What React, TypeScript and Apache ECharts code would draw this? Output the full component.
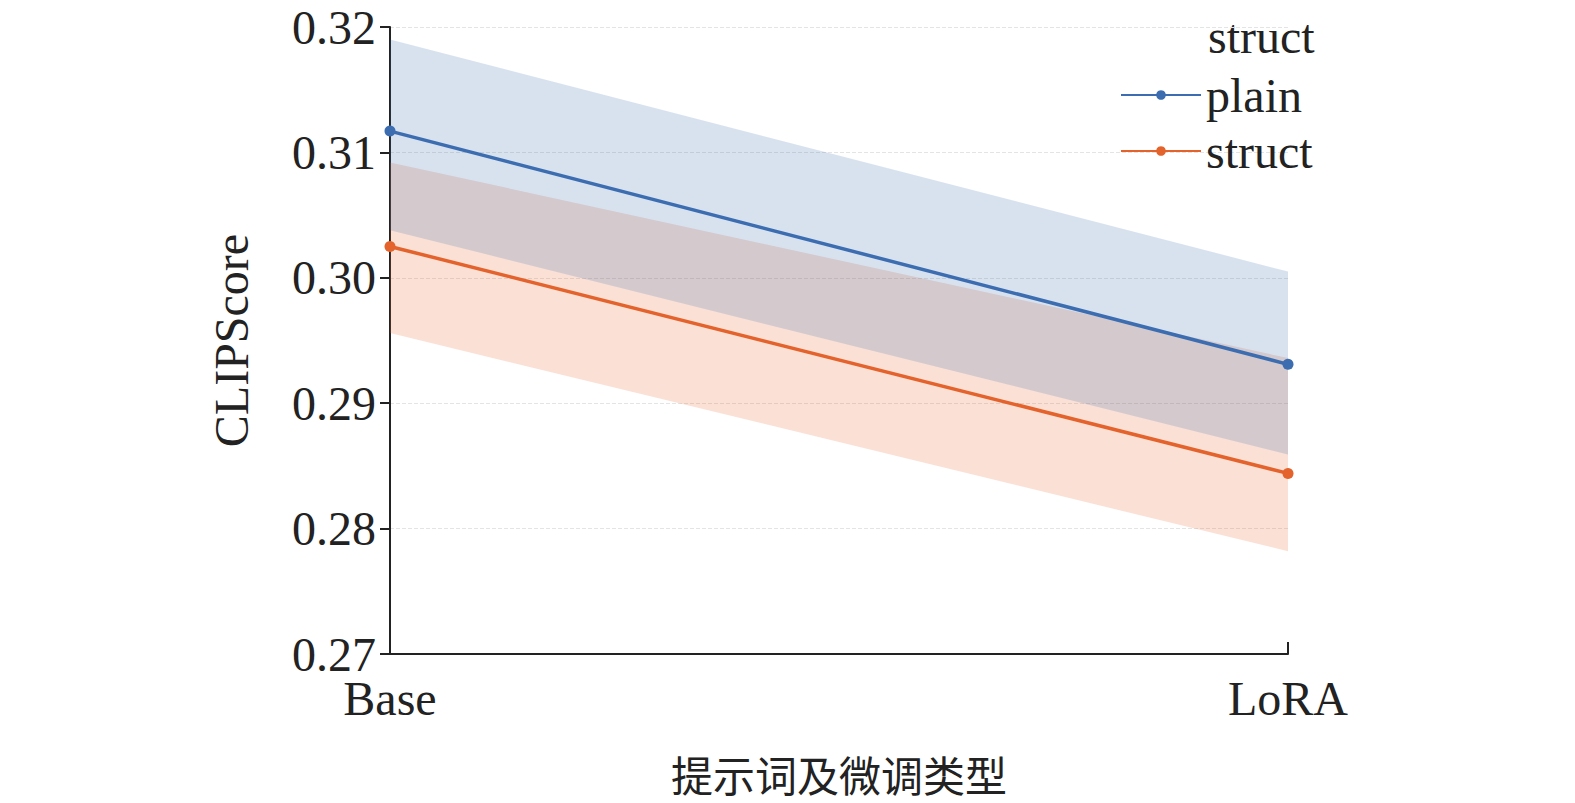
import React, { useEffect, useRef } from "react";
import * as echarts from "echarts";

const categories = ["Base", "LoRA"];
const plainMean = [0.3117, 0.2931];
const plainUpper = [0.319, 0.3005];
const plainLower = [0.3038, 0.2859];
const structMean = [0.3025, 0.2844];
const structUpper = [0.3092, 0.2936];
const structLower = [0.2956, 0.2782];

const BLUE = "#3b6db0";
const ORANGE = "#e4622b";
const SERIF = "Liberation Serif";

const App: React.FC = () => {
	const chartRef = useRef<HTMLDivElement>(null);

	useEffect(() => {
		if (!chartRef.current) return;
		const chart = echarts.init(chartRef.current, undefined, { renderer: "svg" });

		const band = (name: string, lower: number[], upper: number[], color: string) => [
			{
				name: name + "-low",
				type: "line",
				stack: name,
				data: lower,
				symbol: "none",
				lineStyle: { opacity: 0 },
				silent: true,
			},
			{
				name: name + "-band",
				type: "line",
				stack: name,
				data: upper.map((u, i) => +(u - lower[i]).toFixed(4)),
				symbol: "none",
				lineStyle: { opacity: 0 },
				areaStyle: { color, opacity: 0.2 },
				silent: true,
			},
		];

		chart.setOption({
			animation: false,
			grid: { left: 390, right: 287, top: 27, bottom: 149 },
			legend: {
				data: [
					{ name: "plain", itemStyle: { color: BLUE } },
					{ name: "struct", itemStyle: { color: ORANGE } },
				],
				orient: "vertical",
				left: 1115,
				top: 66,
				itemWidth: 80,
				itemHeight: 12,
				itemGap: 8,
				textStyle: { fontFamily: SERIF, fontSize: 48, color: "#222" },
			},
			graphic: [
				{
					type: "text",
					left: 1208,
					top: 12,
					style: { text: "struct", font: `48px "${SERIF}"`, fill: "#222" },
				},
			],
			xAxis: {
				type: "category",
				data: categories,
				boundaryGap: false,
				name: "提示词及微调类型",
				nameLocation: "middle",
				nameGap: 98,
				nameTextStyle: { fontFamily: "Noto Sans CJK SC", fontSize: 42, color: "#222" },
				axisLine: { lineStyle: { color: "#222", width: 2 } },
				axisTick: { inside: true, length: 12, lineStyle: { color: "#222", width: 2 } },
				axisLabel: { fontFamily: SERIF, fontSize: 48, color: "#222", margin: 20 },
			},
			yAxis: {
				type: "value",
				min: 0.27,
				max: 0.32,
				interval: 0.01,
				name: "CLIPScore",
				nameLocation: "middle",
				nameGap: 135,
				nameTextStyle: { fontFamily: SERIF, fontSize: 48, color: "#222" },
				axisLine: { show: true, lineStyle: { color: "#222", width: 2 } },
				axisTick: { show: true, length: 10, lineStyle: { color: "#222", width: 2 } },
				axisLabel: {
					fontFamily: SERIF,
					fontSize: 48,
					color: "#222",
					margin: 14,
					formatter: (v: number) => v.toFixed(2),
				},
				splitLine: { lineStyle: { color: "#e4e4e4", type: "dashed" } },
			},
			series: [
				...band("s", structLower, structUpper, ORANGE),
				...band("p", plainLower, plainUpper, BLUE),
				{
					name: "plain",
					type: "line",
					data: plainMean,
					symbol: "circle",
					symbolSize: 11,
					itemStyle: { color: BLUE },
					lineStyle: { color: BLUE, width: 3.5 },
				},
				{
					name: "struct",
					type: "line",
					data: structMean,
					symbol: "circle",
					symbolSize: 11,
					itemStyle: { color: ORANGE },
					lineStyle: { color: ORANGE, width: 3.5 },
				},
			],
		});

		return () => {
			chart.dispose();
		};
	}, []);

	return (
		<div
			ref={chartRef}
			style={{ position: "fixed", left: 0, top: 0, width: "1575px", height: "803px", background: "#fff" }}
		/>
	);
};

export default App;
